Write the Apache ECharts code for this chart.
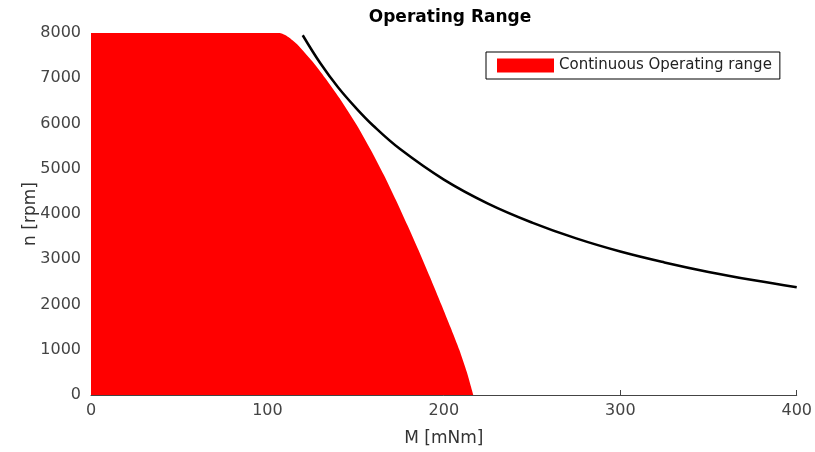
<!DOCTYPE html>
<html>
<head>
<meta charset="utf-8">
<script src="https://cdn.jsdelivr.net/npm/echarts@6/dist/echarts.min.js"></script>
<style>
  html, body { margin: 0; padding: 0; background: #fff; }
  #chart { width: 815px; height: 452px; }
</style>
</head>
<body>
<div id="chart"></div>
<script>
// continuous operating range boundary: torque [mNm] vs speed [rpm]
const rangeTorque = [0, 106.9, 110, 112.6, 117.1, 125.4, 132.7, 140.8, 150.6, 158.6, 166, 172.8, 179.3, 185.6, 192.1, 198.6, 203.7, 208.8, 213, 216.7];
const rangeSpeed = [8000, 8000, 7956, 7890, 7741, 7375, 7006, 6564, 5967, 5414, 4862, 4309, 3757, 3204, 2608, 1996, 1503, 994, 508, 0];

// limit curve (black)
const limitTorque = [120, 130, 140, 150, 160, 175, 200, 225, 250, 275, 300, 325, 350, 375, 400];
const limitSpeed = [7950, 7330, 6800, 6350, 5950, 5440, 4760, 4230, 3810, 3460, 3170, 2930, 2720, 2540, 2380];

const xTicks = [0, 100, 200, 300, 400];
const yTicks = [0, 1000, 2000, 3000, 4000, 5000, 6000, 7000, 8000];

const font = 'DejaVu Sans';
const chart = echarts.init(document.getElementById('chart'));

chart.setOption({
    animation: false,
    title: {
        text: 'Operating Range',
        left: 445,
        textAlign: 'center',
        top: 4,
        textStyle: { fontFamily: font, fontSize: 17, fontWeight: 'bold', color: '#000' }
    },
    legend: {
        data: ['Continuous Operating range'],
        left: 486,
        top: 52,
        padding: [6, 8, 6, 11],
        itemWidth: 57,
        itemHeight: 14,
        icon: 'rect',
        borderColor: '#000',
        borderWidth: 1,
        backgroundColor: '#fff',
        textStyle: { fontFamily: font, fontSize: 15, color: '#222' }
    },
    grid: { left: 91, right: 17, top: 33, bottom: 57 },
    xAxis: {
        type: 'value',
        min: xTicks[0],
        max: xTicks[xTicks.length - 1],
        interval: 100,
        name: 'M [mNm]',
        nameLocation: 'middle',
        nameGap: 35,
        nameTextStyle: { fontFamily: font, fontSize: 17, color: '#333' },
        axisLine: { show: true, lineStyle: { color: '#444', width: 1 } },
        axisTick: { show: true, inside: true, length: 5, lineStyle: { color: '#444' } },
        axisLabel: { fontFamily: font, fontSize: 16, color: '#444', margin: 8, formatter: v => String(v) },
        splitLine: { show: false }
    },
    yAxis: {
        type: 'value',
        min: yTicks[0],
        max: yTicks[yTicks.length - 1],
        interval: 1000,
        name: 'n [rpm]',
        nameLocation: 'middle',
        nameGap: 52,
        nameMoveOverlap: false,
        nameTextStyle: { fontFamily: font, fontSize: 17, color: '#333' },
        axisLine: { show: false },
        axisTick: { show: false },
        axisLabel: { fontFamily: font, fontSize: 16, color: '#444', margin: 10, formatter: v => String(v) },
        splitLine: { show: false }
    },
    series: [
        {
            name: 'Continuous Operating range',
            type: 'line',
            data: rangeTorque.map((m, i) => [m, rangeSpeed[i]]),
            smooth: 0.2,
            showSymbol: false,
            color: '#ff0000',
            itemStyle: { color: '#ff0000' },
            lineStyle: { width: 0, color: '#ff0000' },
            areaStyle: { color: '#ff0000', opacity: 1 },
            z: 3
        },
        {
            name: 'limit',
            type: 'line',
            data: limitTorque.map((m, i) => [m, limitSpeed[i]]),
            smooth: 0.4,
            showSymbol: false,
            lineStyle: { width: 2.5, color: '#000' },
            itemStyle: { color: '#000' },
            z: 4
        }
    ]
});
</script>
</body>
</html>
